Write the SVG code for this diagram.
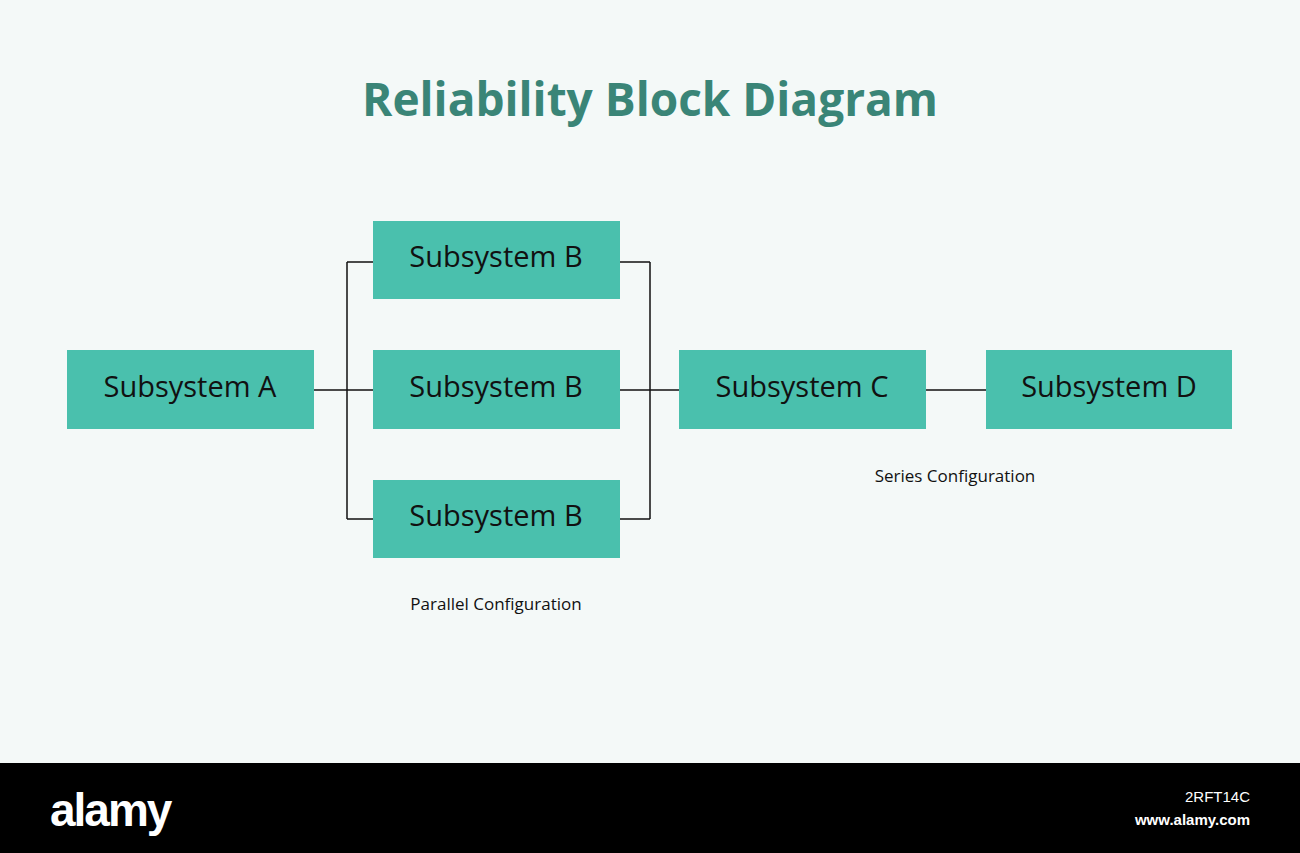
<svg xmlns="http://www.w3.org/2000/svg" width="1300" height="853" viewBox="0 0 1300 853">
<style>
.box{fill:#4ac0ad}
.bt{font-family:"Open Sans","Liberation Sans",sans-serif;font-size:29px;fill:#111;text-anchor:middle}
.lbl{font-family:"Open Sans","Liberation Sans",sans-serif;font-size:17px;fill:#111;text-anchor:middle}
.ln{stroke:#111;stroke-width:1.5;fill:none}
</style>
<rect width="1300" height="853" fill="#f4f9f8"/>
<text x="650" y="116" text-anchor="middle" font-family="'Open Sans','Liberation Sans',sans-serif" font-weight="bold" font-size="46" fill="#3a8577">Reliability Block Diagram</text>
<g id="connectors">
<path class="ln" d="M314 390H373M347 262V519M347 262H373M347 519H373M620 262H650M620 519H650M650 262V519M620 390H679M926 390H986"/>
</g>
<g id="nodeA"><rect class="box" x="67" y="350" width="247" height="79"/><text class="bt" x="190" y="397">Subsystem A</text></g>
<g id="nodeB1"><rect class="box" x="373" y="221" width="247" height="78"/><text class="bt" x="496" y="267">Subsystem B</text></g>
<g id="nodeB2"><rect class="box" x="373" y="350" width="247" height="79"/><text class="bt" x="496" y="397">Subsystem B</text></g>
<g id="nodeB3"><rect class="box" x="373" y="480" width="247" height="78"/><text class="bt" x="496" y="526">Subsystem B</text></g>
<g id="nodeC"><rect class="box" x="679" y="350" width="247" height="79"/><text class="bt" x="802" y="397">Subsystem C</text></g>
<g id="nodeD"><rect class="box" x="986" y="350" width="246" height="79"/><text class="bt" x="1109" y="397">Subsystem D</text></g>
<text class="lbl" x="955" y="482">Series Configuration</text>
<text class="lbl" x="496" y="610">Parallel Configuration</text>
<rect x="0" y="763" width="1300" height="90" fill="#000"/>
<text x="50" y="826" font-family="'Liberation Sans',sans-serif" font-weight="bold" font-size="46" fill="#fff" letter-spacing="-2">alamy</text>
<text x="1250" y="802" text-anchor="end" font-family="'Liberation Sans',sans-serif" font-size="15" fill="#fff">2RFT14C</text>
<text x="1250" y="825" text-anchor="end" font-family="'Liberation Sans',sans-serif" font-weight="bold" font-size="15" fill="#fff">www.alamy.com</text>
</svg>
